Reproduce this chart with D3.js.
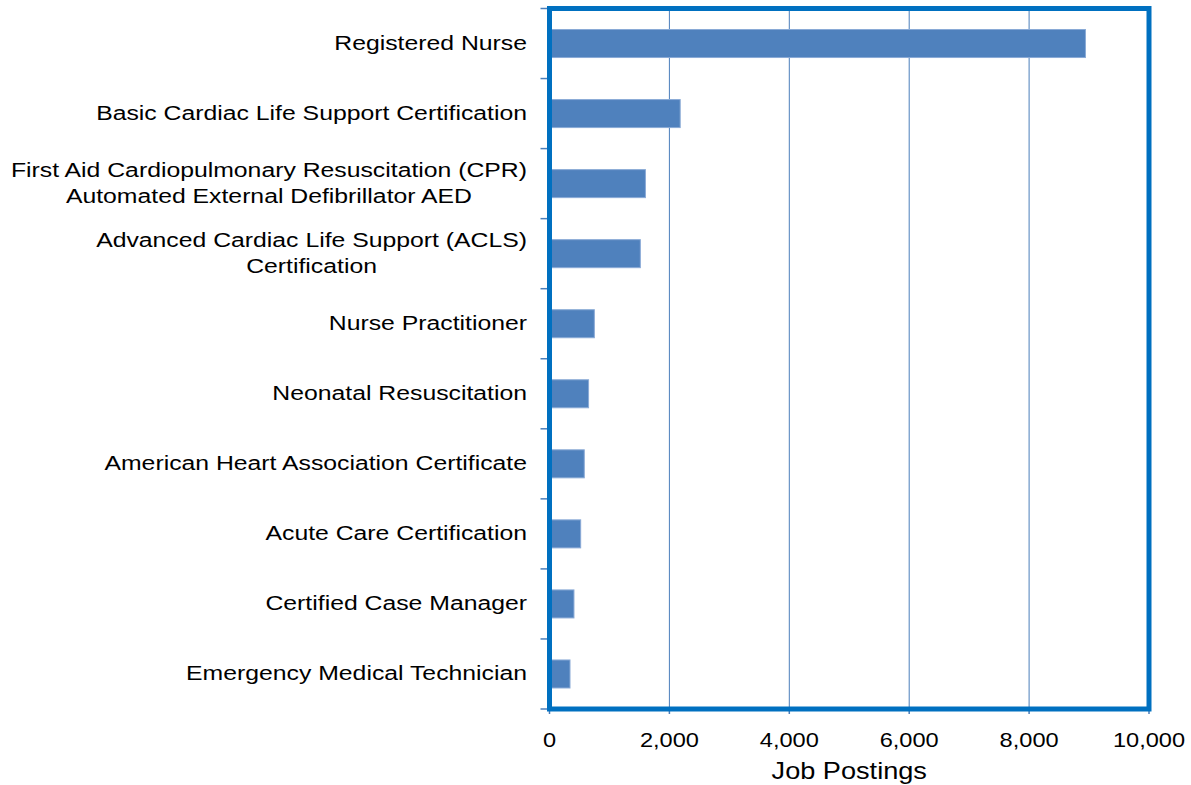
<!DOCTYPE html>
<html>
<head>
<meta charset="utf-8">
<script src="https://cdn.jsdelivr.net/npm/d3@7"></script>
<style>
  html, body { margin: 0; padding: 0; background: #fff; }
  svg { display: block; }
  text { font-family: "Liberation Sans", Arial, sans-serif; fill: #000; }
</style>
</head>
<body>
<svg id="chart" width="1191" height="785"></svg>
<script>
const categories = [
  "Registered Nurse",
  "Basic Cardiac Life Support Certification",
  "First Aid Cardiopulmonary Resuscitation (CPR)\nAutomated External Defibrillator AED",
  "Advanced Cardiac Life Support (ACLS)\nCertification",
  "Nurse Practitioner",
  "Neonatal Resuscitation",
  "American Heart Association Certificate",
  "Acute Care Certification",
  "Certified Case Manager",
  "Emergency Medical Technician"
];
const jobPostings = [8940, 2180, 1600, 1515, 748, 652, 580, 520, 408, 342];
const xTicks = [0, 2000, 4000, 6000, 8000, 10000];
const xTitle = "Job Postings";

(function () {
const svg = d3.select("#chart");
const pL = 549.5, pR = 1149, pT = 8.5, pB = 709;
const sx = 1.18; // horizontal stretch of the reference text

const x = d3.scaleLinear().domain([0, 10000]).range([pL, pR]);
const y = d3.scaleBand().domain(categories).range([pT, pB])
  .paddingInner(0.6).paddingOuter(0.3);

// gridlines
svg.append("g").selectAll("line").data(xTicks.slice(1, -1)).join("line")
  .attr("x1", d => x(d)).attr("x2", d => x(d))
  .attr("y1", pT).attr("y2", pB)
  .attr("stroke", "#4A7EBB").attr("stroke-width", 1);

// bars
svg.append("g").selectAll("rect").data(categories).join("rect")
  .attr("x", x(0))
  .attr("y", d => y(d))
  .attr("width", (d, i) => x(jobPostings[i]) - x(0))
  .attr("height", y.bandwidth())
  .attr("fill", "#4F81BD")
  .attr("stroke", "#8AAAD6")
  .attr("stroke-width", 1);

// y tick marks at band boundaries
const step = y.step();
const yTickPos = d3.range(categories.length + 1).map(i => pT + i * step);
svg.append("g").selectAll("line").data(yTickPos).join("line")
  .attr("x1", pL - 9).attr("x2", pL)
  .attr("y1", d => d).attr("y2", d => d)
  .attr("stroke", "#4A7EBB").attr("stroke-width", 1.5);

// x tick marks
svg.append("g").selectAll("line").data(xTicks).join("line")
  .attr("x1", d => x(d)).attr("x2", d => x(d))
  .attr("y1", pB).attr("y2", pB + 5)
  .attr("stroke", "#4A7EBB").attr("stroke-width", 1.5);

// frame
svg.append("rect")
  .attr("x", pL).attr("y", pT)
  .attr("width", pR - pL).attr("height", pB - pT)
  .attr("fill", "none").attr("stroke", "#0070C0").attr("stroke-width", 5);

// category labels
const lineH = 26;
const labG = svg.append("g");
categories.forEach(c => {
  const lines = c.split("\n");
  const cy = y(c) + y.bandwidth() / 2;
  const g = labG.append("g").attr("transform", `translate(527,0) scale(${sx},1)`);
  const t = g.selectAll("text").data(lines).join("text")
    .attr("y", (d, i) => cy + 6.5 + (i - (lines.length - 1) / 2) * lineH)
    .attr("font-size", "21px")
    .text(d => d);
  const widths = t.nodes().map(n => n.getComputedTextLength());
  const maxW = d3.max(widths);
  t.attr("text-anchor", "middle").attr("x", -maxW / 2);
});

// x tick labels
xTicks.forEach(v => {
  svg.append("g").attr("transform", `translate(${x(v)},747) scale(${sx},1)`)
    .append("text").attr("text-anchor", "middle").attr("font-size", "20px")
    .text(d3.format(",")(v));
});

// x title
svg.append("g").attr("transform", `translate(${(pL + pR) / 2},779) scale(${sx},1)`)
  .append("text").attr("text-anchor", "middle").attr("font-size", "23px")
  .text(xTitle);
})();
</script>
</body>
</html>
